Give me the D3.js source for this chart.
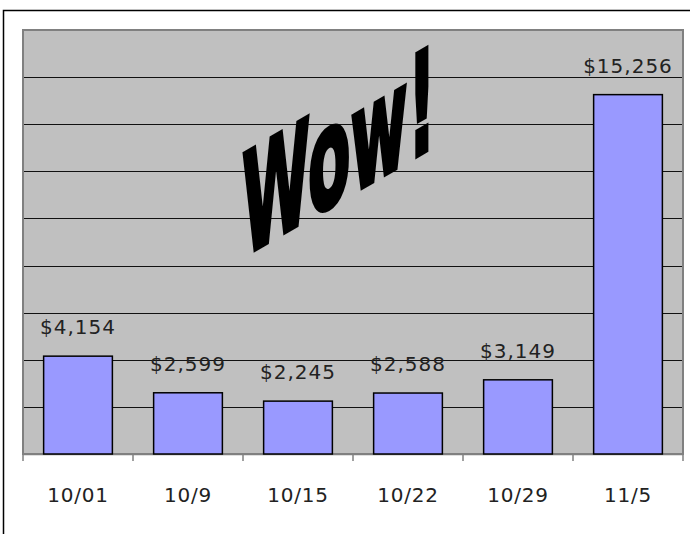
<!DOCTYPE html>
<html><head><meta charset="utf-8">
<script src="https://cdn.jsdelivr.net/npm/d3@7"></script>
<style>
html,body{margin:0;padding:0;background:#fff;}
svg{display:block;}
text{font-family:"DejaVu Sans",Verdana,sans-serif;}
</style></head>
<body>
<svg id="chart" width="690" height="534"></svg>
<script>
const categories = ["10/01","10/9","10/15","10/22","10/29","11/5"];
const values = [4154, 2599, 2245, 2588, 3149, 15256];
const valueLabels = ["$4,154","$2,599","$2,245","$2,588","$3,149","$15,256"];
const yMax = 18000;
const yStep = 2000;
const annotation = "Wow!";

const svg = d3.select("#chart");
const W = 690, H = 534;
const plot = {left: 23, top: 30, right: 683, bottom: 454};

// outer chart border (only left/top visible)
svg.append("rect").attr("x",3.5).attr("y",10.5).attr("width",W+20).attr("height",H+20)
  .attr("fill","#fff").attr("stroke","#000").attr("stroke-width",1.5);

const x = d3.scaleBand().domain(categories).range([plot.left, plot.right]).paddingInner(0.375).paddingOuter(0.1875);
const xc = d3.scaleBand().domain(categories).range([plot.left, plot.right]);
const y = d3.scaleLinear().domain([0,yMax]).range([plot.bottom, plot.top]);

// plot area
svg.append("rect").attr("x",plot.left).attr("y",plot.top)
  .attr("width",plot.right-plot.left).attr("height",plot.bottom-plot.top)
  .attr("fill","#C0C0C0").attr("stroke","#808080").attr("stroke-width",2);

// gridlines
const ticks = d3.range(yStep, yMax+1, yStep);
svg.append("g").selectAll("line").data(ticks.filter(t=>t<yMax)).join("line")
  .attr("x1",plot.left+1).attr("x2",plot.right-1)
  .attr("y1",d=>Math.round(y(d))+0.5).attr("y2",d=>Math.round(y(d))+0.5)
  .attr("stroke","#111").attr("stroke-width",1);

// x axis with ticks at category boundaries
const xAxisG = svg.append("g");
xAxisG.append("line").attr("x1",plot.left).attr("x2",plot.right)
  .attr("y1",plot.bottom+0.5).attr("y2",plot.bottom+0.5).attr("stroke","#808080").attr("stroke-width",1.5);
const bounds = categories.map(c=>xc(c)).concat([plot.right]);
xAxisG.selectAll("line.tk").data(bounds).join("line").attr("class","tk")
  .attr("x1",d=>d).attr("x2",d=>d).attr("y1",plot.bottom).attr("y2",plot.bottom+7)
  .attr("stroke","#808080").attr("stroke-width",1.5);
xAxisG.selectAll("text").data(categories).join("text")
  .attr("x",d=>xc(d)+xc.bandwidth()/2).attr("y",502)
  .attr("text-anchor","middle").attr("font-size",20).attr("letter-spacing",0.8)
  .attr("fill","#222").text(d=>d);

// bars
svg.append("g").selectAll("rect").data(values).join("rect")
  .attr("x",(d,i)=>x(categories[i])).attr("width",x.bandwidth())
  .attr("y",d=>y(d)).attr("height",d=>plot.bottom-y(d))
  .attr("fill","#9999FF").attr("stroke","#000").attr("stroke-width",1.5);

// value labels
svg.append("g").selectAll("text").data(values).join("text")
  .attr("x",(d,i)=>x(categories[i])+x.bandwidth()/2).attr("y",d=>y(d)-22)
  .attr("text-anchor","middle").attr("font-size",20).attr("letter-spacing",1)
  .attr("fill","#222").text((d,i)=>valueLabels[i]);

// Wow! annotation
svg.append("text")
  .attr("transform","translate(242,257) skewY(-30)")
  .attr("x",0).attr("y",0)
  .attr("font-family","'Liberation Sans Narrow','DejaVu Sans Condensed','DejaVu Sans',sans-serif")
  .attr("font-weight","bold").attr("font-size",140)
  .attr("textLength",194).attr("lengthAdjust","spacingAndGlyphs")
  .attr("fill","#000").attr("stroke","#000").attr("stroke-width",5).attr("stroke-linejoin","miter")
  .text(annotation);
</script>
</body></html>
